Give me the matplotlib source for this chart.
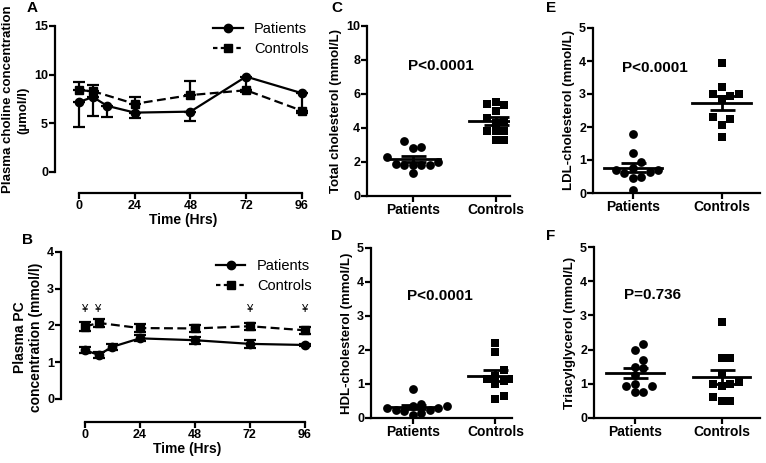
import numpy as np
import matplotlib.pyplot as plt
from matplotlib.lines import Line2D

plt.rcParams['font.family'] = ['Liberation Sans', 'DejaVu Sans']
plt.rcParams['font.weight'] = 'bold'
plt.rcParams['axes.labelweight'] = 'bold'
plt.rcParams['axes.linewidth'] = 1.6

W, H = 766, 463

# Panel A: plasma choline (umol/l)
a_pat_t = [0, 6, 12, 24, 48, 72, 96]
a_pat_mean = [7.2, 7.7, 6.8, 6.1, 6.2, 9.8, 8.1]
a_pat_err = [2.6, 1.9, 1.1, 0.6, 1.0, 1.4, 1.8]
a_con_t = [0, 6, 24, 48, 72, 96]
a_con_mean = [8.4, 8.3, 7.0, 7.9, 8.4, 6.3]
a_con_err_up = [0.8, 0.6, 0.7, 1.4, 0.0, 0.0]
a_con_err_dn = [0.0, 0.0, 0.0, 0.0, 0.2, 0.2]

# Panel B: plasma PC (mmol/l)
b_pat_t = [0, 6, 12, 24, 48, 72, 96]
b_pat_mean = [1.33, 1.2, 1.42, 1.65, 1.6, 1.5, 1.47]
b_pat_err = [0.08, 0.08, 0.08, 0.08, 0.1, 0.1, 0.03]
b_con_t = [0, 6, 24, 48, 72, 96]
b_con_mean = [1.97, 2.07, 1.93, 1.92, 1.98, 1.87]
b_con_err = [0.12, 0.12, 0.1, 0.1, 0.1, 0.1]
b_sig_t = [0, 6, 72, 96]

groups = ['Patients', 'Controls']
tc_pat = [3.25, 2.9, 2.8, 2.3, 2.0, 1.9, 1.85, 1.85, 1.8, 1.8, 1.35]
tc_con = [5.55, 5.4, 5.35, 5.0, 4.6, 4.4, 4.3, 3.85, 3.8, 3.8, 3.3, 3.3]
ldl_pat = [1.8, 1.2, 0.95, 0.75, 0.7, 0.7, 0.65, 0.6, 0.5, 0.45, 0.1]
ldl_con = [3.93, 3.2, 3.0, 3.0, 2.95, 2.85, 2.3, 2.25, 2.05, 1.7]
hdl_pat = [0.85, 0.4, 0.35, 0.35, 0.3, 0.3, 0.25, 0.25, 0.2, 0.15, 0.1]
hdl_con = [2.2, 1.95, 1.4, 1.25, 1.15, 1.15, 1.1, 1.0, 0.65, 0.55]
tg_pat = [2.15, 2.0, 1.7, 1.5, 1.45, 1.25, 1.0, 0.95, 0.95, 0.75, 0.75]
tg_con = [2.8, 1.75, 1.75, 1.3, 1.05, 1.0, 1.0, 0.95, 0.6, 0.5, 0.5]

fig = plt.figure(figsize=(W / 100, H / 100), dpi=100)


def add_ax(left, right, top, bottom):
    return fig.add_axes([left / W, 1 - bottom / H, (right - left) / W, (bottom - top) / H])


def style(ax):
    for s in ['top', 'right']:
        ax.spines[s].set_visible(False)
    ax.tick_params(width=1.6, length=4, labelsize=9, pad=1)


def bold_ticks(ax):
    for t in ax.get_xticklabels() + ax.get_yticklabels():
        t.set_fontweight('bold')


def time_panel(ax, pat, con, ylim, yticks, ylabel, leg_y):
    style(ax)
    ax.set_ylim(*ylim)
    ax.set_xlim(-10.4, 100)
    ax.set_yticks(yticks)
    ax.set_xticks([0, 24, 48, 72, 96])
    bold_ticks(ax)
    ax.spines['left'].set_bounds(yticks[0], yticks[-1])
    ax.spines['bottom'].set_bounds(0, 96)
    ax.spines['bottom'].set_position(('data', ylim[0]))
    ax.errorbar(pat[0], pat[1], yerr=pat[2], color='black', marker='o', ms=6,
                lw=1.6, elinewidth=1.6, capsize=4, capthick=1.6)
    ax.errorbar(con[0], con[1], yerr=con[2], color='black', marker='s', ms=6,
                lw=1.6, ls='--', dashes=(4, 2), elinewidth=1.6, capsize=4,
                capthick=1.6)
    ax.set_xlabel('Time (Hrs)', fontsize=10, labelpad=1)
    if ylabel:
        ax.set_ylabel(ylabel, fontsize=10, labelpad=3)
    handles = [Line2D([], [], color='black', marker='o', ms=6, lw=1.6),
               Line2D([], [], color='black', marker='s', ms=6, lw=1.6,
                      ls='--', dashes=(2, 1.5))]
    ax.legend(handles, ['Patients', 'Controls'], loc='upper right', frameon=False,
              handlelength=2.0, borderaxespad=0.1, labelspacing=0.4,
              bbox_to_anchor=(1.02, leg_y),
              prop={'weight': 'normal', 'size': 10.5})


axA = add_ax(55, 311, 26, 193)
time_panel(axA,
           (a_pat_t, a_pat_mean, [a_pat_err, [0] * len(a_pat_err)]),
           (a_con_t, a_con_mean, [a_con_err_dn, a_con_err_up]),
           (-2.16, 15), [0, 5, 10, 15], None, 1.066)
fig.text(8 / W, 1 - 99 / H, 'Plasma choline concentration', rotation=90,
         ha='center', va='center', fontsize=9.5, fontweight='bold')
fig.text(23 / W, 1 - 110 / H, '(\u00b5mol/l)', rotation=90,
         ha='center', va='center', fontsize=9.5, fontweight='bold')

axB = add_ax(61, 314, 252, 422)
time_panel(axB,
           (b_pat_t, b_pat_mean, b_pat_err),
           (b_con_t, b_con_mean, b_con_err),
           (-0.626, 4), [0, 1, 2, 3, 4],
           'Plasma PC\nconcentration (mmol/l)', 1.0)
for t in b_sig_t:
    axB.text(t, 2.45, '\u00a5', ha='center', va='center', fontsize=8, fontweight='normal')


def swarm(ax, x0, vals, diam):
    # simple beeswarm in pixel space
    tr = ax.transData
    placed = []
    xs = np.zeros(len(vals))
    order = np.argsort(vals)
    for i in order:
        px0, py = tr.transform((x0, vals[i]))
        k = 0
        while True:
            step = (k + 1) // 2 * (1 if k % 2 else -1)
            px = px0 + step * diam
            if all((px - qx) ** 2 + (py - qy) ** 2 >= diam ** 2 for qx, qy in placed):
                break
            k += 1
        placed.append((px, py))
        xs[i] = tr.inverted().transform((px, py))[0]
    return xs


def dot_panel(ax, pat, con, ylim, yticks, xlim, ylabel, ptext, ptext_xy):
    style(ax)
    ax.set_ylim(*ylim)
    ax.set_xlim(*xlim)
    ax.set_yticks(yticks)
    ax.set_xticks([0, 1])
    ax.set_xticklabels(groups, fontsize=10)
    bold_ticks(ax)
    for j, (vals, mk) in enumerate([(pat, 'o'), (con, 's')]):
        vals = np.array(vals)
        xs = swarm(ax, j, vals, 8.5)
        ax.scatter(xs, vals, marker=mk, s=40, color='black', lw=0, zorder=3)
        m = vals.mean()
        se = vals.std(ddof=1) / np.sqrt(len(vals))
        ax.plot([j - 0.33, j + 0.33], [m, m], color='black', lw=2, zorder=4)
        ax.errorbar([j], [m], yerr=[se], color='black', elinewidth=2,
                    capsize=9, capthick=2, zorder=4)
    ax.set_ylabel(ylabel, fontsize=9.5, labelpad=3)
    ax.text(ptext_xy[0], ptext_xy[1], ptext, ha='center', va='center',
            fontsize=11, fontweight='bold')


axC = add_ax(367, 510, 26, 196)
dot_panel(axC, tc_pat, tc_con, (0, 10), [0, 2, 4, 6, 8, 10], (-0.554, 1.17),
          'Total cholesterol (mmol/L)', 'P<0.0001', (0.34, 7.65))

axE = add_ax(593, 760, 28, 193)
dot_panel(axE, ldl_pat, ldl_con, (0, 5), [0, 1, 2, 3, 4, 5], (-0.45, 1.43),
          'LDL-cholesterol (mmol/L)', 'P<0.0001', (0.25, 3.8))

axD = add_ax(371, 512, 248, 418)
dot_panel(axD, hdl_pat, hdl_con, (0, 5), [0, 1, 2, 3, 4, 5], (-0.506, 1.2),
          'HDL-cholesterol (mmol/L)', 'P<0.0001', (0.33, 3.6))

axF = add_ax(594, 760, 247, 418)
dot_panel(axF, tg_pat, tg_con, (0, 5), [0, 1, 2, 3, 4, 5], (-0.47, 1.44),
          'Triacylglycerol (mmol/L)', 'P=0.736', (0.2, 3.6))

for lab, x, y in [('A', 27, 8), ('B', 22, 240), ('C', 331, 8), ('D', 331, 236),
                  ('E', 546, 8), ('F', 546, 236)]:
    fig.text(x / W, 1 - y / H, lab, fontsize=11, fontweight='bold', va='center')

fig.savefig('out.png', dpi=100)
